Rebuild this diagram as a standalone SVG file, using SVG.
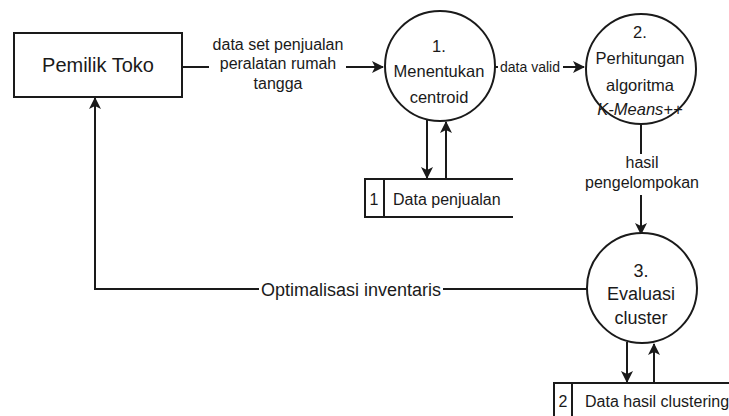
<svg xmlns="http://www.w3.org/2000/svg" width="729" height="416" viewBox="0 0 729 416">
  <style>
    .shape { fill: #ffffff; stroke: #1a1a1a; stroke-width: 2; }
    .flow { fill: none; stroke: #1a1a1a; stroke-width: 2; }
    .t { font-family: "Liberation Sans", Arial, sans-serif; fill: #1a1a1a; text-anchor: middle; }
    .n { font-size: 16.5px; }
    .l { font-size: 16px; }
    .s { font-size: 14px; }
    .st { font-family: "Liberation Sans", Arial, sans-serif; fill: #1a1a1a; font-size: 16px; }
  </style>
  <defs>
    <marker id="arrow" viewBox="0 0 12 12" refX="11" refY="6" markerWidth="12" markerHeight="12" markerUnits="userSpaceOnUse" orient="auto">
      <path d="M0,0 L12,6 L0,12 L3,6 Z" fill="#1a1a1a"/>
    </marker>
  </defs>

  <!-- connectors -->
  <g id="connectors">
    <path class="flow" d="M182,67 H209"/>
    <path class="flow" d="M346,67 H383" marker-end="url(#arrow)"/>
    <path class="flow" d="M495,67 H498"/>
    <path class="flow" d="M563,67 H584" marker-end="url(#arrow)"/>
    <path class="flow" d="M641,124 V154"/>
    <path class="flow" d="M641,195 V234" marker-end="url(#arrow)"/>
    <path class="flow" d="M427,120 V178" marker-end="url(#arrow)"/>
    <path class="flow" d="M446,179 V122" marker-end="url(#arrow)"/>
    <path class="flow" d="M627,342 V382" marker-end="url(#arrow)"/>
    <path class="flow" d="M654,383 V344" marker-end="url(#arrow)"/>
    <path class="flow" d="M587,289 H443"/>
    <path class="flow" d="M259,289 H95 V98" marker-end="url(#arrow)"/>
    <text class="t l" x="278" y="50">data set penjualan</text>
    <text class="t l" x="278" y="69">peralatan rumah</text>
    <text class="t l" x="278" y="89">tangga</text>
    <text class="t s" x="530" y="72">data valid</text>
    <text class="t l" x="642" y="168">hasil</text>
    <text class="t l" x="642" y="188">pengelompokan</text>
    <text class="t" x="351" y="296" font-size="18">Optimalisasi inventaris</text>
  </g>

  <!-- external entity -->
  <g id="pemilik-toko">
    <rect class="shape" x="14" y="33" width="168" height="64"/>
    <text class="t" x="98" y="72" font-size="20">Pemilik Toko</text>
  </g>

  <!-- processes -->
  <g id="proses-1">
    <circle class="shape" cx="440" cy="66" r="55"/>
    <text class="t n" x="439" y="52">1.</text>
    <text class="t n" x="439" y="77">Menentukan</text>
    <text class="t n" x="439" y="103">centroid</text>
  </g>
  <g id="proses-2">
    <circle class="shape" cx="641" cy="69" r="55"/>
    <text class="t n" x="640" y="38">2.</text>
    <text class="t n" x="640" y="64">Perhitungan</text>
    <text class="t n" x="640" y="91">algoritma</text>
    <text class="t n" x="640" y="115" font-style="italic">K-Means++</text>
  </g>
  <g id="proses-3">
    <circle class="shape" cx="642" cy="288" r="55"/>
    <text class="t" x="641" y="277" font-size="18">3.</text>
    <text class="t" x="641" y="300" font-size="18">Evaluasi</text>
    <text class="t" x="641" y="324" font-size="18">cluster</text>
  </g>

  <!-- data stores -->
  <g id="data-penjualan">
    <path class="flow" d="M513,179 H365 V217 H513 M384,179 V217"/>
    <text class="st" x="374" y="205" text-anchor="middle">1</text>
    <text class="st" x="393" y="205">Data penjualan</text>
  </g>
  <g id="data-hasil-clustering">
    <path class="flow" d="M729,383 H554 V417 M572,383 V417"/>
    <text class="st" x="563" y="407" text-anchor="middle">2</text>
    <text class="st" x="585" y="407">Data hasil clustering</text>
  </g>
</svg>
